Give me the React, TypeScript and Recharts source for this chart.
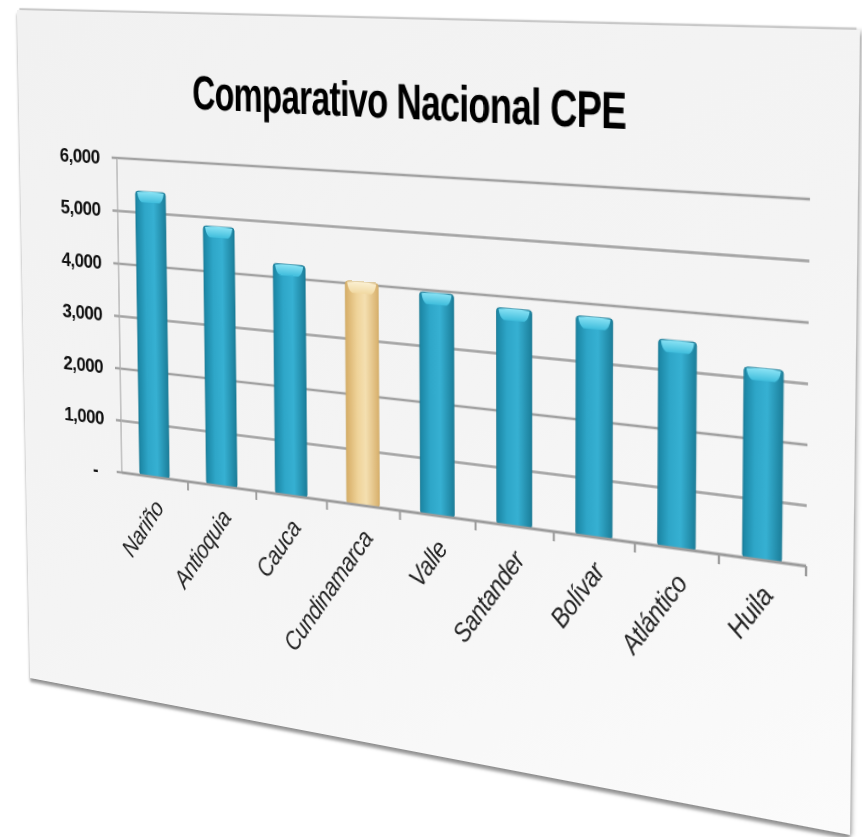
import React from 'react';
import { BarChart, Bar, XAxis, YAxis, CartesianGrid, Cell } from 'recharts';

const departamentos = ['Nariño', 'Antioquia', 'Cauca', 'Cundinamarca', 'Valle', 'Santander', 'Bolívar', 'Atlántico', 'Huila'];
const cpe = [5400, 4840, 4250, 4040, 3960, 3800, 3780, 3510, 3180];
const destacado = 'Cundinamarca';
const yTicks = [0, 1000, 2000, 3000, 4000, 5000, 6000];
const titulo = 'Comparativo Nacional CPE';

const data = departamentos.map((name, i) => ({ name, cpe: cpe[i] }));

// flat panel size, then warped onto the tilted slide seen in the photo
const W = 840;
const H = 700;
const PLOT_LEFT = 115;
const PLOT_RIGHT = 40;
const corners: number[][] = [[17, 10], [860, 30], [850, 835], [30, 678]];
const band = (W - PLOT_LEFT - PLOT_RIGHT) / departamentos.length;

// projective map of the W x H rectangle onto the four corners (css matrix3d)
function quadTransform(w: number, h: number, q: number[][]) {
  const [[x0, y0], [x1, y1], [x2, y2], [x3, y3]] = q;
  const dx1 = x1 - x2, dx2 = x3 - x2, dx3 = x0 - x1 + x2 - x3;
  const dy1 = y1 - y2, dy2 = y3 - y2, dy3 = y0 - y1 + y2 - y3;
  const den = dx1 * dy2 - dx2 * dy1;
  const g = (dx3 * dy2 - dx2 * dy3) / den;
  const k = (dx1 * dy3 - dx3 * dy1) / den;
  const a = x1 - x0 + g * x1, b = x3 - x0 + k * x3, c = x0;
  const d = y1 - y0 + g * y1, e = y3 - y0 + k * y3, f = y0;
  const m = [a / w, d / w, 0, g / w, b / h, e / h, 0, k / h, 0, 0, 1, 0, c, f, 0, 1];
  return `matrix3d(${m.join(',')})`;
}

const BevelBar = (props: any) => {
  const { x, y, width, height, fill, payload } = props;
  if (!height || height <= 0) return null;
  const gold = payload && payload.name === destacado;
  const edge = gold ? '#cfae6c' : '#1a7893';
  const capId = gold ? 'url(#tapaDorada)' : 'url(#tapaAzul)';
  return (
    <g>
      <rect x={x} y={y} width={width} height={height} rx={3} fill={fill} stroke={edge} strokeWidth={0.8} />
      <path
        d={`M${x + 2},${y + 1} Q${x + width / 2},${y - 1} ${x + width - 2},${y + 1} Q${x + width - 3},${y + 9} ${x + width - 7},${y + 11} H${x + 7} Q${x + 3},${y + 9} ${x + 2},${y + 1} Z`}
        fill={capId}
      />
    </g>
  );
};

const ValueTick = (props: any) => {
  const { x, y, payload } = props;
  const v = payload.value;
  return (
    <text
      x={v === 0 ? x - 8 : x}
      y={y}
      dy={7}
      textAnchor="end"
      fontFamily="'Liberation Sans', Arial, sans-serif"
      fontWeight="bold"
      fontSize={20}
      letterSpacing={-0.6}
      fill="#111"
    >
      {v === 0 ? '-' : v.toLocaleString('en-US')}
    </text>
  );
};

const CategoryTick = (props: any) => {
  const { x, y, payload } = props;
  return (
    <g>
      <line x1={x + band / 2} y1={y} x2={x + band / 2} y2={y + 9} stroke="#9c9c9c" strokeWidth={2} />
      <text
        transform={`translate(${x + 11},${y + 31}) rotate(-56)`}
        textAnchor="end"
        fontFamily="'Liberation Sans', Arial, sans-serif"
        fontStyle="italic"
        fontSize={24}
        letterSpacing={-0.4}
        fill="#222"
      >
        {payload.value}
      </text>
    </g>
  );
};

export default function App() {
  return (
    <div
      style={{
        position: 'absolute',
        left: 0,
        top: 0,
        width: W,
        height: H,
        transformOrigin: '0 0',
        transform: quadTransform(W, H, corners),
        background: 'linear-gradient(150deg, #f1f1f1 0%, #f4f4f4 55%, #fbfbfb 100%)',
        boxShadow: '0 4px 3px rgba(0,0,0,0.4), 3px 0 3px rgba(0,0,0,0.15), 0 -5px 1px -3px rgba(0,0,0,0.18)',
      }}
    >
      <div
        style={{
          position: 'absolute',
          left: 70,
          top: 53,
          width: 700,
          textAlign: 'center',
          whiteSpace: 'nowrap',
        }}
      >
        <span
          style={{
            display: 'inline-block',
            transform: 'scaleX(0.75)',
            fontFamily: "'Liberation Sans', Arial, sans-serif",
            fontWeight: 'bold',
            fontSize: 47,
            lineHeight: '47px',
            letterSpacing: -1,
            color: '#000',
          }}
        >
          {titulo}
        </span>
      </div>
      <BarChart
        width={W}
        height={H}
        data={data}
        margin={{ top: 146, right: PLOT_RIGHT, bottom: 203, left: 0 }}
        barCategoryGap="27.5%"
      >
        <defs>
          <linearGradient id="azul" x1="0" y1="0" x2="1" y2="0">
            <stop offset="0%" stopColor="#1a84a2" />
            <stop offset="30%" stopColor="#2ea6c8" />
            <stop offset="60%" stopColor="#36b0d2" />
            <stop offset="100%" stopColor="#1b7e9a" />
          </linearGradient>
          <linearGradient id="dorado" x1="0" y1="0" x2="1" y2="0">
            <stop offset="0%" stopColor="#d6ad66" />
            <stop offset="35%" stopColor="#efd399" />
            <stop offset="60%" stopColor="#f4dfb0" />
            <stop offset="100%" stopColor="#d8b06c" />
          </linearGradient>
          <linearGradient id="tapaAzul" x1="0" y1="0" x2="0" y2="1">
            <stop offset="0%" stopColor="#8be3f5" />
            <stop offset="100%" stopColor="#3fbddc" />
          </linearGradient>
          <linearGradient id="tapaDorada" x1="0" y1="0" x2="0" y2="1">
            <stop offset="0%" stopColor="#fbf0d2" />
            <stop offset="100%" stopColor="#f1d9a2" />
          </linearGradient>
        </defs>
        <CartesianGrid vertical={false} stroke="#a2a2a2" strokeWidth={2.5} />
        <YAxis
          width={PLOT_LEFT}
          domain={[0, 6000]}
          ticks={yTicks}
          interval={0}
          axisLine={{ stroke: '#b5b5b5', strokeWidth: 1.5 }}
          tickLine={{ stroke: '#a2a2a2', strokeWidth: 2.5 }}
          tickSize={6}
          tickMargin={14}
          tick={<ValueTick />}
        />
        <XAxis
          dataKey="name"
          height={30}
          interval={0}
          axisLine={{ stroke: '#9c9c9c', strokeWidth: 2.5 }}
          tickLine={false}
          tickSize={0}
          tickMargin={0}
          tick={<CategoryTick />}
        />
        <Bar dataKey="cpe" isAnimationActive={false} shape={<BevelBar />}>
          {data.map((d) => (
            <Cell key={d.name} fill={d.name === destacado ? 'url(#dorado)' : 'url(#azul)'} />
          ))}
        </Bar>
      </BarChart>
    </div>
  );
}
